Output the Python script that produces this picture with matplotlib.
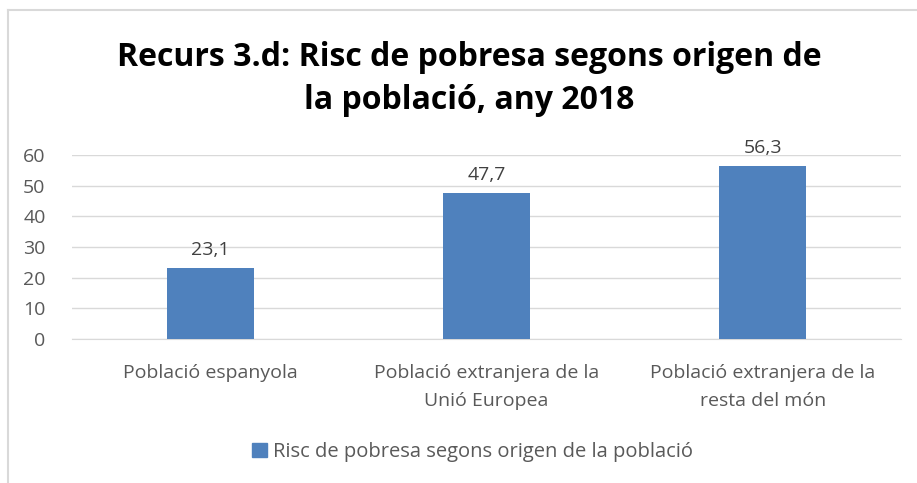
import matplotlib
matplotlib.use("Agg")
import matplotlib.pyplot as plt
from matplotlib.lines import Line2D
from matplotlib.patches import Patch

categories = ["Població espanyola", "Població extranjera de la\nUnió Europea", "Població extranjera de la\nresta del món"]
values = [23.1, 47.7, 56.3]
labels = ["23,1", "47,7", "56,3"]
series_name = "Risc de pobresa segons origen de la població"
title = "Recurs 3.d: Risc de pobresa segons origen de\nla població, any 2018"
yticks = [0, 10, 20, 30, 40, 50, 60]

plt.rcParams['font.family'] = ['Open Sans', 'DejaVu Sans']

fig = plt.figure(figsize=(9.17, 4.83), dpi=100)
W, H = 917, 483
ax = fig.add_axes([72 / W, 1 - 339 / H, (901 - 72) / W, (339 - 155) / H])

bar_color = "#4F81BD"
txt_color = "#595959"
fs = 14
x = list(range(len(categories)))
ax.bar(x, values, width=0.315, color=bar_color, zorder=3)
for xi, v, lab in zip(x, values, labels):
    ax.text(xi, v + 3.0, lab, ha="center", va="bottom", fontsize=fs, color="#404040")

ax.set_xlim(-0.5, len(categories) - 0.5)
ax.set_ylim(0, 60)
ax.set_yticks(yticks)
ax.set_yticklabels([str(t) for t in yticks], fontsize=fs, color=txt_color)
ax.yaxis.grid(True, color="#D9D9D9", linewidth=1)
ax.set_axisbelow(True)
ax.tick_params(axis="y", length=0, pad=19)
ax.tick_params(axis="x", length=0, pad=18)
ax.set_xticks(x)
ax.set_xticklabels(categories, fontsize=fs, color=txt_color, linespacing=1.75)
for s in ["top", "right", "left"]:
    ax.spines[s].set_visible(False)
ax.spines["bottom"].set_color("#D9D9D9")

fig.text(0.512, 1 - 79 / H, title, ha="center", va="center", fontsize=23,
         fontweight="bold", color="#000000", linespacing=1.4)

handles = [Patch(facecolor=bar_color, edgecolor=bar_color)]
fig.legend(handles, [series_name], loc="center", bbox_to_anchor=(0.515, 1 - 452 / H),
           frameon=False, fontsize=fs + 0.5, labelcolor=txt_color, handlelength=0.75,
           handleheight=0.75, handletextpad=0.3)

# chart area border (top and left visible)
fig.add_artist(Line2D([8 / W, 1], [1 - 10 / H, 1 - 10 / H], color="#D9D9D9", linewidth=1.5,
                      transform=fig.transFigure))
fig.add_artist(Line2D([8 / W, 8 / W], [0, 1 - 10 / H], color="#D9D9D9", linewidth=1.5,
                      transform=fig.transFigure))

fig.savefig("out.png", dpi=100)
